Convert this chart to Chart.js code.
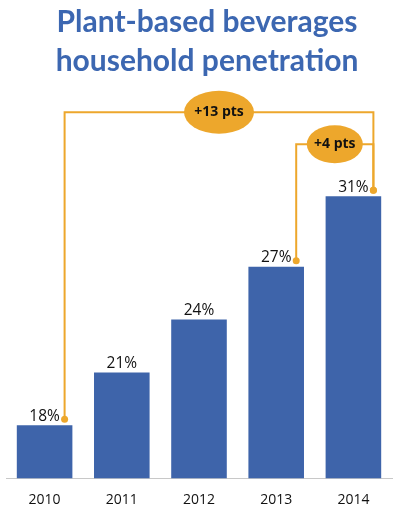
<!DOCTYPE html>
<html>
<head>
<meta charset="utf-8">
<script src="https://cdn.jsdelivr.net/npm/chart.js@4/dist/chart.umd.min.js"></script>
<style>
  html, body { margin: 0; padding: 0; background: #fff; }
  #wrap { width: 404px; height: 531px; }
</style>
</head>
<body>
<div id="wrap"><canvas id="grafik"></canvas></div>
<script>
// data
const tahun = ['2010', '2011', '2012', '2013', '2014'];
const penetrasi = [18, 21, 24, 27, 31];   // % rumah tangga
const kurungDari = [0, 3];  // indeks awal kurung selisih
const kurungKe = [4, 4];    // indeks akhir kurung selisih
const judul = ['Plant-based beverages', 'household penetration'];

const biru = '#3E64AA';
const oranye = '#EDA72C';

// judul digambar sendiri supaya posisinya pas
const judulPlugin = {
  id: 'judulPlugin',
  afterDraw(chart) {
    const ctx = chart.ctx;
    ctx.save();
    ctx.fillStyle = '#3C67B1';
    ctx.font = 'bold 30px Lato, sans-serif';
    ctx.textAlign = 'center';
    ctx.textBaseline = 'alphabetic';
    ctx.fillText(judul[0], 207, 32);
    ctx.fillText(judul[1], 207, 71);
    ctx.restore();
  }
};

// label persen, titik oranye dan kurung "+x pts"
const anotasi = {
  id: 'anotasi',
  afterDatasetsDraw(chart) {
    const ctx = chart.ctx;
    const bars = chart.getDatasetMeta(0).data;

    ctx.save();
    ctx.fillStyle = '#111';
    ctx.font = '15.5px "Open Sans", sans-serif';
    ctx.textAlign = 'center';
    ctx.textBaseline = 'bottom';
    bars.forEach((b, i) => {
      ctx.fillText(penetrasi[i] + '%', b.x, b.y - 1);
    });

    const titik = i => ({ x: bars[i].x + 20, y: bars[i].y - 6 });
    const naik = [84, 52];       // tinggi kurung di atas batang tertinggi
    const jari = [[35, 21.5], [28, 19]];

    kurungDari.forEach((dari, k) => {
      const a = titik(dari), b = titik(kurungKe[k]);
      const yLevel = bars[kurungKe[k]].y - naik[k];
      ctx.strokeStyle = oranye;
      ctx.lineWidth = 2;
      ctx.beginPath();
      ctx.moveTo(a.x, a.y);
      ctx.lineTo(a.x, yLevel);
      ctx.lineTo(b.x, yLevel);
      ctx.lineTo(b.x, b.y);
      ctx.stroke();

      const cx = (a.x + b.x) / 2;
      ctx.fillStyle = oranye;
      ctx.beginPath();
      ctx.ellipse(cx, yLevel, jari[k][0], jari[k][1], 0, 0, Math.PI * 2);
      ctx.fill();

      ctx.fillStyle = '#111';
      ctx.font = 'bold 14px "Open Sans", sans-serif';
      ctx.textBaseline = 'middle';
      ctx.fillText('+' + (penetrasi[kurungKe[k]] - penetrasi[dari]) + ' pts', cx, yLevel);

      [a, b].forEach(p => {
        ctx.fillStyle = oranye;
        ctx.beginPath();
        ctx.arc(p.x, p.y, 3.5, 0, Math.PI * 2);
        ctx.fill();
      });
    });
    ctx.restore();
  }
};

new Chart(document.getElementById('grafik'), {
  type: 'bar',
  data: {
    labels: tahun,
    datasets: [{
      data: penetrasi,
      backgroundColor: biru,
      barPercentage: 0.72,
      categoryPercentage: 1
    }]
  },
  options: {
    responsive: true,
    maintainAspectRatio: false,
    animation: false,
    layout: { padding: { left: 6, right: 12, top: 87, bottom: 18 } },
    plugins: {
      legend: { display: false },
      tooltip: { enabled: false },
      title: { display: false }
    },
    scales: {
      x: {
        grid: { display: false },
        border: { display: true, color: '#C8C8C8', width: 1 },
        ticks: { color: '#111', font: { family: '"Open Sans", sans-serif', size: 14 }, padding: 5 }
      },
      y: {
        display: false,
        min: 15,
        max: 37.2
      }
    }
  },
  plugins: [anotasi, judulPlugin]
});
</script>
</body>
</html>
